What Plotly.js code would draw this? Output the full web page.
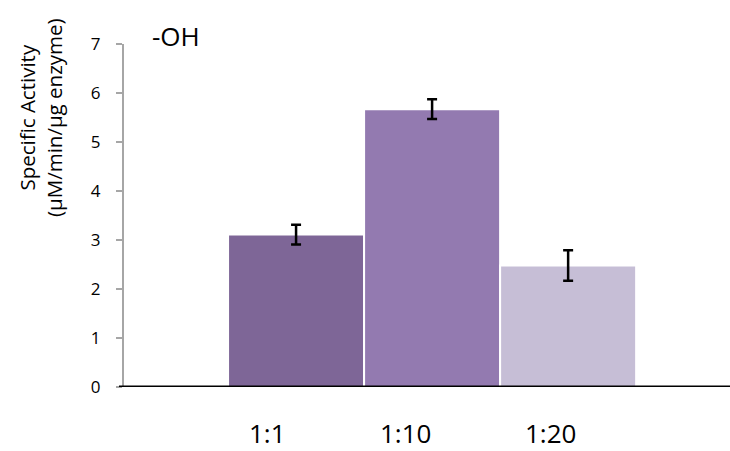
<!DOCTYPE html>
<html>
<head>
<meta charset="utf-8">
<script src="https://cdn.plot.ly/plotly-3.0.1.min.js"></script>
<style>html,body{margin:0;padding:0;background:#fff;}#chart{width:730px;height:451px;}</style>
</head>
<body>
<div id="chart"></div>
<script>
const categories = ["1:1", "1:10", "1:20"];
const values = [3.11, 5.67, 2.48];
const errors = [0.2, 0.2, 0.31];
const barColors = ["#7e6697", "#937ab0", "#c6bed6"];
const yTicks = [0, 1, 2, 3, 4, 5, 6, 7];
const panelLabel = "-OH";
const yTitleLines = ["Specific Activity", "(µM/min/µg enzyme)"];

const FONT = "Open Sans, Noto Sans, Liberation Sans, sans-serif";
const labelShift = [-28.5, -26.5, -18];

const trace = {
  type: "bar",
  x: categories,
  y: values,
  width: 1,
  marker: { color: barColors, line: { color: "#ffffff", width: 2 } },
  error_y: { type: "data", array: errors, visible: true, color: "#000000", thickness: 2.5, width: 5 },
  hoverinfo: "none"
};

const annotations = categories.map((c, i) => ({
  x: c, xref: "x", y: 0, yref: "paper", yshift: -46, xshift: labelShift[i],
  text: c, showarrow: false, xanchor: "center", yanchor: "middle",
  font: { family: FONT, size: 26, color: "#000" }
}));
annotations.push({
  x: (176 - 124) / 606, xref: "paper", y: 1.0, yref: "paper", yshift: 8,
  text: panelLabel, showarrow: false, xanchor: "center", yanchor: "middle",
  font: { family: FONT, size: 26, color: "#000" }
});
annotations.push({
  x: (41 - 124) / 606, xref: "paper", y: 1 - (118 - 44) / 343, yref: "paper",
  text: yTitleLines.join("<br>"), showarrow: false, textangle: -90,
  xanchor: "center", yanchor: "middle",
  font: { family: FONT, size: 20.5, color: "#000" }
});

const layout = {
  width: 730, height: 451,
  margin: { l: 124, r: 0, t: 44, b: 64 },
  paper_bgcolor: "#fff", plot_bgcolor: "#fff",
  showlegend: false,
  bargap: 0,
  xaxis: {
    type: "category", range: [-1.265, 3.19],
    showticklabels: false, ticks: "", showgrid: false, zeroline: false, showline: false
  },
  yaxis: {
    range: [0, 7], tickvals: yTicks, ticktext: yTicks.map(String),
    showgrid: false, zeroline: false,
    showline: true, linecolor: "#a6a6a6", linewidth: 2,
    ticks: "outside", ticklen: 6, tickcolor: "#a6a6a6", tickwidth: 1.5,
    ticklabelstandoff: 12,
    tickfont: { family: FONT, size: 17, color: "#000" }
  },
  shapes: [{
    type: "line", xref: "paper", yref: "y", x0: -5 / 606, x1: 1, y0: 0, y1: 0,
    line: { color: "#000", width: 3 }
  }],
  annotations: annotations
};

Plotly.newPlot("chart", [trace], layout, { staticPlot: true, displayModeBar: false });
</script>
</body>
</html>
